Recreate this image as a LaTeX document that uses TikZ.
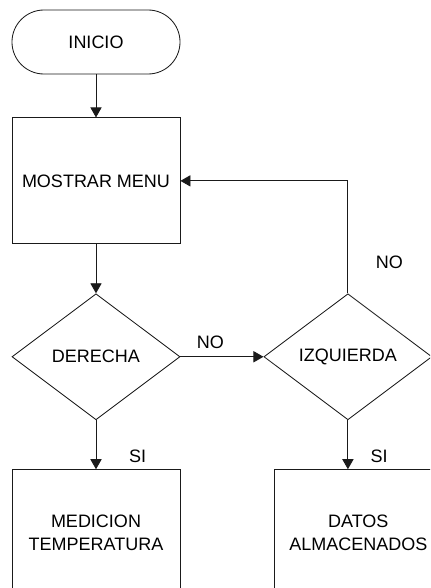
\documentclass[tikz,border=0pt]{standalone}
\usepackage{fontspec}
\usepackage{xcolor}
\usepackage{tikz}
\usetikzlibrary{positioning, arrows.meta, shapes.geometric}
\setmainfont{Liberation Sans}
\definecolor{lineblack}{HTML}{1A1A1A}

\begin{document}
\begin{tikzpicture}[x=0.025cm, y=0.025cm, line width=0.6pt,
    font=\fontsize{12.8}{16.5}\selectfont,
    terminal/.style={draw=lineblack, rounded corners=0.8cm, minimum width=4.2cm, minimum height=1.6cm},
    process/.style={draw=lineblack, minimum width=4.2cm, minimum height=3.15cm, align=center},
    decision/.style={draw=lineblack, diamond, aspect=1.333, inner sep=0pt, minimum width=4.2cm, minimum height=3.15cm},
    flow/.style={draw=lineblack, -{Triangle[length=0.25cm, width=0.28cm]}},
    lbl/.style={inner sep=0pt}]
    \clip (0,0) rectangle (430,588);

    % main column
    \node[terminal] (inicio) at (96,546) {INICIO};
    \node[process, below=1.075cm of inicio] (menu) {MOSTRAR MENU};
    \node[decision, below=1.225cm of menu] (derecha) {DERECHA};
    \node[process, below=1.225cm of derecha] (medicion) {MEDICION\\TEMPERATURA};

    % second decision and its branch
    \node[decision, right=2.075cm of derecha] (izquierda) {IZQUIERDA};
    \node[process, below=1.225cm of izquierda, xshift=0.26cm] (datos) {DATOS\\ALMACENADOS};

    \draw[flow] (inicio) -- (menu);
    \draw[flow] (menu) -- (derecha);
    \draw[flow] (derecha) -- node[lbl, pos=0.36, above=0.2cm] {NO} (izquierda);
    \draw[flow] (derecha) -- node[lbl, pos=0.74, anchor=west, xshift=0.82cm] {SI} (medicion);
    \draw[flow] (izquierda) -- node[lbl, pos=0.74, anchor=west, xshift=0.56cm] {SI} (datos.north -| izquierda.south);
    \draw[flow] (izquierda.north) |- node[lbl, pos=0.14, anchor=west, xshift=0.69cm] {NO} (menu.east);
\end{tikzpicture}
\end{document}
